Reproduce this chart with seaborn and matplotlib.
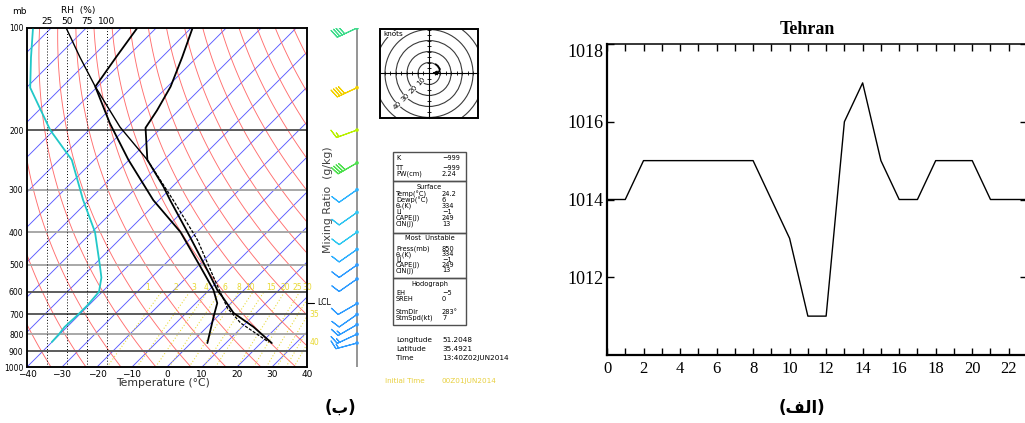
import numpy as np
import matplotlib
matplotlib.use("Agg")
import matplotlib.pyplot as plt
from matplotlib.patches import Rectangle, Circle
from matplotlib.ticker import NullLocator, FixedFormatter
import seaborn as sns

sns.set_theme(style="white")
plt.rcParams["font.family"] = ["DejaVu Sans"]
plt.rcParams["axes.unicode_minus"] = True
for key in ("text.color", "axes.labelcolor", "xtick.color", "ytick.color", "axes.edgecolor"):
    plt.rcParams[key] = "black"

W, H = 1025, 423

# ---------------- data ----------------
# hourly surface pressure at Tehran (hPa)
hours = list(range(24))
slp_hpa = [1014, 1014, 1015, 1015, 1015, 1015, 1015, 1015, 1015, 1014, 1013, 1011,
           1011, 1016, 1017, 1015, 1014, 1014, 1015, 1015, 1015, 1014, 1014, 1014]
slp_ticks = [1012, 1014, 1016, 1018]
hour_ticks = list(range(0, 23, 2))

# sounding: environmental temperature (degC) vs pressure (hPa)
temp_p = [100, 122, 149, 175, 197, 245, 294, 322, 414, 525, 593, 622, 693, 762, 850]
temp_c = [-89.6, -84.2, -79.1, -76.2, -74.5, -64.8, -52.5, -46.8, -30.5, -15.3,
          -7.6, -4.1, 3.6, 13.3, 23.1]
# dewpoint
dew_p = [100, 122, 149, 191, 245, 322, 400, 507, 593, 648, 712, 850]
dew_c = [-105.4, -103.1, -100.6, -86.0, -70.2, -51.6, -34.7, -19.0, -8.7, -3.9, -1.0, 4.7]
# lifted parcel
parcel_p = [100, 122, 149, 196, 245, 322, 422, 543, 622, 670, 742, 844]
parcel_c = [-125.7, -113.4, -100.6, -82.0, -64.8, -45.9, -27.6, -12.4, -4.1, 0.4, 8.5, 21.9]
# relative humidity (%)
rh_p = [100, 122, 150, 200, 245, 321, 400, 500, 545, 600, 656, 700, 762, 800, 844]
rh_pct = [7.5, 5, 4, 29, 56, 70, 85, 91, 93, 90, 76, 64, 47, 40, 31]
rh_ticks = [25, 50, 75, 100]

# wind profile
wind_p = [100, 150, 200, 250, 300, 350, 400, 450, 500, 550, 650, 700, 750, 800, 850]
wind_dir = [245, 245, 250, 240, 235, 235, 235, 235, 235, 235, 240, 235, 240, 245, 255]
wind_kt = [40, 40, 15, 40, 10, 10, 10, 10, 10, 10, 10, 10, 15, 15, 15]
wind_col = ["#3fdc8c", "#f2d000", "#b8f000", "#4de04d", "#2fb4ff", "#2fc4f0", "#2fc8f0",
            "#2fb0ff", "#2f9cff", "#2f9cff", "#2f9cff", "#2f9cff", "#2f9cff", "#2f9cff", "#2f9cff"]

# hodograph trace (kt)
hodo_u = [6, 8, 10, 9, 7, 4.5]
hodo_v = [8.5, 7, 4, 1.5, 0.5, 0.3]
hodo_rings = [10, 20, 30, 40, 50, 60]

# mixing-ratio lines (g/kg)
mix_ratios = [1, 2, 3, 4, 6, 8, 10, 15, 20, 25, 30, 35, 40]
isobars = [200, 300, 400, 500, 600, 700, 800, 900]
isobar_dark = [200, 600, 700, 900]
lcl_p = 647

# stability table
tab_top = [("K", "\u2212999"), ("TT", "\u2212999"), ("PW(cm)", "2.24")]
tab_surface = [("Temp(\u00b0C)", "24.2"), ("Dewp(\u00b0C)", "6"), ("\u03b8\u2091(K)", "334"),
               ("LI", "\u22121"), ("CAPE(J)", "249"), ("CIN(J)", "13")]
tab_unstable = [("Press(mb)", "850"), ("\u03b8\u2091(K)", "334"), ("LI", "\u22121"),
                ("CAPE(J)", "249"), ("CIN(J)", "13")]
tab_hodo = [("EH", "\u22125"), ("SREH", "0"), ("StmDir", "283\u00b0"), ("StmSpd(kt)", "7")]
station = [("Longitude", "51.2048"), ("Latitude", "35.4921"), ("Time", "13:40Z02JUN2014")]
init_time = ("Initial Time", "00Z01JUN2014")

# ---------------- figure ----------------
fig = plt.figure(figsize=(W / 100, H / 100), dpi=100)
fig.patch.set_facecolor("white")


def box(x0, y0, x1, y1):
    return [x0 / W, 1 - y1 / H, (x1 - x0) / W, (y1 - y0) / H]


SKEW = 96.9  # horizontal shift (degC) per decade of pressure


def skew_x(t, p):
    return np.asarray(t, float) + SKEW * np.log10(1000.0 / np.asarray(p, float))


# ---------------- Skew-T log-p ----------------
ax = fig.add_axes(box(27, 28, 307, 367))
ax.set_yscale("log")
ax.set_xlim(-40, 40)
ax.set_ylim(1000, 100)
ax.set_facecolor("white")

pg = np.geomspace(1000, 100, 80)
for t0 in range(-140, 50, 10):
    ax.plot(skew_x(np.full_like(pg, t0), pg), pg, color="#5a5aff", lw=0.65, zorder=1)
for th in range(220, 440, 10):
    ax.plot(skew_x(th * (pg / 1000) ** 0.2857 - 273.15, pg), pg, color="#ff6e6e", lw=0.65, zorder=1)

pm = np.linspace(1000, 600, 30)
for w in mix_ratios:
    e = w * pm / (622 + w)
    lnr = np.log(e / 6.112)
    td = 243.5 * lnr / (17.67 - lnr)
    ax.plot(skew_x(td, pm), pm, color="#e8d830", lw=0.75, ls=(0, (1, 2.0)), zorder=1)
    x600 = skew_x(td[-1], 600) - 4
    if x600 < 42:
        ax.text(x600, 582, str(w), color="#e8d830", fontsize=5.5, ha="center", va="center",
                clip_on=False)
ax.text(1.01, 702, "35", transform=ax.get_yaxis_transform(), color="#e8d830", fontsize=5.5,
        va="center", ha="left", clip_on=False)
ax.text(1.01, 844, "40", transform=ax.get_yaxis_transform(), color="#e8d830", fontsize=5.5,
        va="center", ha="left", clip_on=False)

for pb in isobars:
    ax.axhline(pb, color="#5c5c5c" if pb in isobar_dark else "#a8a8a8", lw=1.4, zorder=2)

# RH axis on top
axr = ax.twiny()
axr.set_xlim(0, 350)
for r in rh_ticks:
    axr.axvline(r, color="black", lw=0.7, ls=(0, (1, 2)), zorder=2)
sns.lineplot(x=rh_pct, y=rh_p, estimator=None, sort=False, ax=axr, color="#22c8c8", lw=1.3)
axr.set_xticks(rh_ticks)
axr.set_xticklabels([str(r) for r in rh_ticks])
axr.tick_params(axis="x", labelsize=6.5, length=0, pad=1.5)
axr.set_xlabel("")
axr.set_ylabel("")

# profiles
sns.lineplot(x=skew_x(temp_c, temp_p), y=temp_p, estimator=None, sort=False, ax=ax,
             color="black", lw=1.3, zorder=4)
sns.lineplot(x=skew_x(dew_c, dew_p), y=dew_p, estimator=None, sort=False, ax=ax,
             color="black", lw=1.3, zorder=4)
pp = np.array(parcel_p, float)
px = skew_x(parcel_c, parcel_p)
up = pp <= 245
lo = pp >= 245
ax.plot(px[up], pp[up], color="black", lw=1.0, zorder=4)
ax.plot(px[lo], pp[lo], color="black", lw=0.9, ls=(0, (2.5, 1.2)), zorder=4)

# LCL marker
ax.plot([1.0, 1.025], [lcl_p, lcl_p], transform=ax.get_yaxis_transform(), color="black",
        lw=0.8, clip_on=False)
ax.text(1.035, lcl_p, "LCL", transform=ax.get_yaxis_transform(), fontsize=5.5, va="center",
        ha="left", clip_on=False)

p_ticks = [100, 200, 300, 400, 500, 600, 700, 800, 900, 1000]
ax.set_xticks(range(-40, 41, 10))
ax.set_yticks(p_ticks)
ax.yaxis.set_minor_locator(NullLocator())
ax.yaxis.set_major_formatter(FixedFormatter([str(v) for v in p_ticks]))
ax.tick_params(axis="y", labelsize=5.5, length=0, pad=2.5)
ax.tick_params(axis="x", labelsize=6.5, length=0, pad=2)
ax.set_xlabel("")
ax.set_ylabel("")
for sp in list(ax.spines.values()) + list(axr.spines.values()):
    sp.set_color("black")
    sp.set_linewidth(1.1)

# ---------------- wind barbs column ----------------
axb = fig.add_axes(box(310, 28, 400, 367))
axb.set_yscale("log")
axb.set_ylim(1000, 100)
axb.set_xlim(-47, 43)
axb.axis("off")
axb.axvline(0, color="#8c8c8c", lw=1.3, zorder=1)
wd = np.deg2rad(wind_dir)
wu = -np.array(wind_kt) * np.sin(wd)
wv = -np.array(wind_kt) * np.cos(wd)
axb.barbs(np.zeros(len(wind_p)), wind_p, wu, wv, length=5.6, barbcolor=wind_col,
          flagcolor=wind_col, linewidth=0.8, zorder=2)
axb.scatter(np.zeros(len(wind_p)), wind_p, c=wind_col, s=7, zorder=3, linewidths=0)

# ---------------- hodograph ----------------
hx = fig.add_axes(box(380, 29, 478, 118))
hx.set_xlim(-44.5, 44.5)
hx.set_ylim(-40.5, 40.5)
hx.set_facecolor("white")
for rr in hodo_rings:
    hx.add_patch(Circle((0, 0), rr, fill=False, color="#3a3a3a", lw=0.8))
hx.spines["left"].set_position("zero")
hx.spines["bottom"].set_position("zero")
hx.spines["right"].set_visible(False)
hx.spines["top"].set_visible(False)
for s in ("left", "bottom"):
    hx.spines[s].set_color("black")
    hx.spines[s].set_linewidth(0.8)
hx.set_xticks(np.arange(-40, 45, 5))
hx.set_yticks(np.arange(-40, 45, 5))
hx.tick_params(direction="inout", length=2.5, width=0.6, labelleft=False, labelbottom=False,
               left=True, bottom=True, color="black")
hx.add_patch(Rectangle((0, 0), 1, 1, transform=hx.transAxes, fill=False, color="black",
                       lw=1.4, clip_on=False, zorder=5))
hx.plot(hodo_u, hodo_v, color="black", lw=1.2, zorder=4)
hx.annotate("", xy=(hodo_u[-1] - 1.5, hodo_v[-1]), xytext=(hodo_u[-2], hodo_v[-2]),
            arrowprops=dict(arrowstyle="-|>", color="black", lw=1.0, mutation_scale=6), zorder=4)
for rr in hodo_rings[:4]:
    hx.text(-rr * 0.72, -rr * 0.72, str(rr), fontsize=5.2, rotation=45, ha="center",
            va="center", bbox=dict(facecolor="white", edgecolor="none", pad=0.2))
hx.text(-41, 36, "knots", fontsize=5.2, ha="left", va="center",
        bbox=dict(facecolor="white", edgecolor="none", pad=0.2))

# ---------------- right panel: pressure series ----------------
ax2 = fig.add_axes(box(607, 44, 1027, 355))
sns.lineplot(x=hours, y=slp_hpa, ax=ax2, color="black", lw=1.0)
ax2.set_xlim(0, 22.6)
ax2.set_ylim(1010, 1018)
ax2.set_xticks(hour_ticks)
ax2.set_xticks(hours, minor=True)
ax2.set_yticks(slp_ticks)
ax2.set_xlabel("")
ax2.set_ylabel("")
ax2.tick_params(which="both", direction="in", top=True, right=True, bottom=True, left=True,
                length=5, width=1.0, color="black")
ax2.tick_params(axis="x", labelsize=12, pad=4, labelcolor="black")
ax2.tick_params(axis="y", labelsize=13, pad=2.5, labelcolor="black")
for lab in ax2.get_xticklabels() + ax2.get_yticklabels():
    lab.set_fontfamily("Liberation Serif")
for lab in ax2.get_yticklabels():
    if lab.get_text() == "1018":
        lab.set_va("top")
ax2.spines["left"].set_linewidth(1.6)
ax2.spines["bottom"].set_linewidth(1.6)
ax2.spines["top"].set_linewidth(1.1)
ax2.spines["right"].set_linewidth(1.1)
for sp in ax2.spines.values():
    sp.set_color("black")

# ---------------- annotation layer (pixel coordinates) ----------------
cv = fig.add_axes([0, 0, 1, 1], zorder=10)
cv.set_xlim(0, W)
cv.set_ylim(H, 0)
cv.axis("off")
cv.patch.set_alpha(0)

cv.text(19, 12, "mb", fontsize=6.5, ha="center", va="center")
cv.text(78, 11, "RH  (%)", fontsize=6.5, ha="center", va="center")
cv.text(163, 383, "Temperature (\u00b0C)", fontsize=7.8, ha="center", va="center", color="#303030")
cv.text(328, 200, "Mixing Ratio  (g/kg)", fontsize=7.8, ha="center", va="center",
        rotation=90, color="#404040")

# stability table
for (y0, y1) in [(152, 181), (181, 233), (233, 278), (278, 325)]:
    cv.add_patch(Rectangle((393, y0), 73, y1 - y0, fill=False, color="#505050", lw=1.0))
fs = 4.8


def rows(items, ys):
    for (k, v), yy in zip(items, ys):
        cv.text(396, yy, k, fontsize=fs, ha="left", va="center")
        cv.text(442, yy, v, fontsize=fs, ha="left", va="center")


rows(tab_top, [158, 168, 174])
cv.text(429.5, 187, "Surface", fontsize=fs, ha="center", va="center")
rows(tab_surface, [194, 200, 206, 211.5, 217.5, 223.5])
cv.text(429.5, 238, "Most  Unstable", fontsize=fs, ha="center", va="center")
rows(tab_unstable, [249, 254.5, 259.5, 265, 270.5])
cv.text(429.5, 284, "Hodograph", fontsize=fs, ha="center", va="center")
rows(tab_hodo, [293, 299, 312, 318])
for (k, v), yy in zip(station, [340, 349, 358]):
    cv.text(396, yy, k, fontsize=5.2, ha="left", va="center")
    cv.text(442, yy, v, fontsize=5.2, ha="left", va="center")
cv.text(385, 381, init_time[0], fontsize=5.2, ha="left", va="center", color="#e8d040")
cv.text(441, 381, init_time[1], fontsize=5.2, ha="left", va="center", color="#e8d040")

# titles and panel letters
cv.text(807, 29, "Tehran", fontsize=13, fontweight="bold", ha="center", va="center",
        fontfamily="Liberation Serif", color="black")
cv.text(340, 408, "(\uFE8F)", fontsize=12, fontweight="bold", ha="center", va="center",
        fontfamily=["DejaVu Sans"], color="black")
cv.text(802, 408, "(\uFED2\uFEDF\uFE8D)", fontsize=12, fontweight="bold", ha="center",
        va="center", fontfamily=["DejaVu Sans"], color="black")

fig.savefig("out.png", dpi=100, facecolor="white")
